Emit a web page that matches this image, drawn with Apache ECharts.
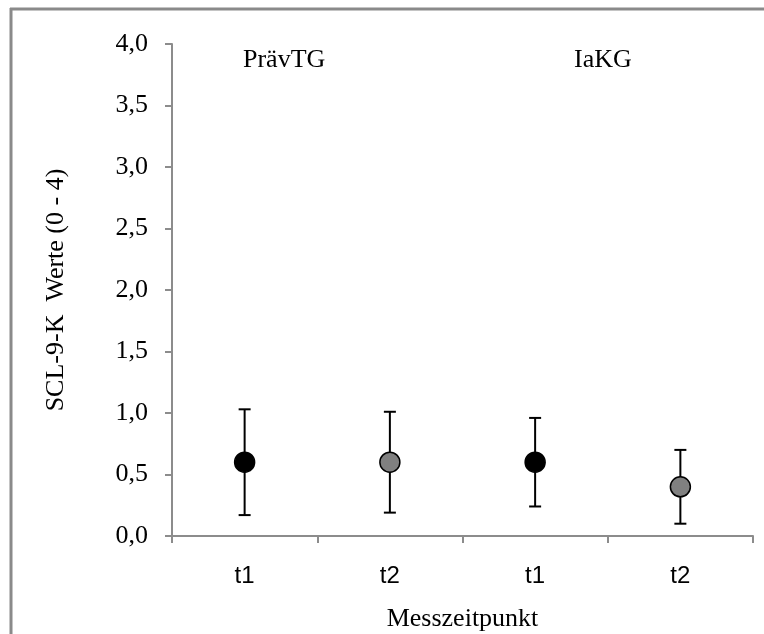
<!DOCTYPE html>
<html>
<head>
<meta charset="utf-8">
<script src="https://cdn.jsdelivr.net/npm/echarts@6/dist/echarts.min.js"></script>
<style>
    html, body { margin: 0; padding: 0; background: #fff; }
    #main { width: 764px; height: 634px; }
</style>
</head>
<body>
<div id="main"></div>
<script>
// Messzeitpunkte
var categories = ['t1', 't2', 't1', 't2'];
// Mittelwerte und Fehlerbalken (oben/unten)
var means = [0.6, 0.6, 0.6, 0.4];
var upper = [1.03, 1.01, 0.96, 0.70];
var lower = [0.17, 0.19, 0.24, 0.10];
var pointColors = ['#000000', '#808080', '#000000', '#808080'];
var groups = ['PrävTG', 'IaKG'];

var serif = '"Liberation Serif", "Times New Roman", serif';
var sans = '"Liberation Sans", Arial, sans-serif';

var myChart = echarts.init(document.getElementById('main'));

var errData = [];
var pointData = [];
for (var i = 0; i < categories.length; i++) {
    errData.push([i, lower[i], upper[i]]);
    pointData.push({
        value: [i, means[i]],
        itemStyle: { color: pointColors[i] }
    });
}

var option = {
    backgroundColor: '#fff',
    animation: false,
    grid: {
        left: 172,
        right: 11,
        top: 44,
        bottom: 98,
        containLabel: false,
        outerBoundsMode: 'none'
    },
    graphic: [
        { type: 'line', shape: { x1: 10, y1: 9, x2: 764, y2: 9 }, style: { stroke: '#8a8a8a', lineWidth: 3 } },
        { type: 'line', shape: { x1: 11, y1: 8, x2: 11, y2: 634 }, style: { stroke: '#8a8a8a', lineWidth: 3 } },
        { type: 'text', left: 243, top: 47, style: { text: groups[0], fontFamily: serif, fontSize: 26, fill: '#000' } },
        { type: 'text', left: 574, top: 47, style: { text: groups[1], fontFamily: serif, fontSize: 26, fill: '#000' } }
    ],
    xAxis: {
        type: 'category',
        data: categories,
        boundaryGap: true,
        name: 'Messzeitpunkt',
        nameLocation: 'middle',
        nameGap: 70,
        nameTextStyle: { fontFamily: serif, fontSize: 26, color: '#000' },
        axisLine: { lineStyle: { color: '#8c8c8c', width: 2 } },
        axisTick: { show: true, length: 7, lineStyle: { color: '#8c8c8c', width: 2 } },
        axisLabel: { margin: 28, fontFamily: sans, fontSize: 24, color: '#000' },
        splitLine: { show: false }
    },
    yAxis: {
        type: 'value',
        min: 0,
        max: 4,
        interval: 0.5,
        name: 'SCL-9-K  Werte (0 - 4)',
        nameLocation: 'middle',
        nameGap: 103,
        nameTextStyle: { fontFamily: serif, fontSize: 26, color: '#000' },
        axisLine: { show: true, lineStyle: { color: '#8c8c8c', width: 2 } },
        axisTick: { show: true, length: 7, lineStyle: { color: '#8c8c8c', width: 2 } },
        axisLabel: {
            margin: 24,
            fontFamily: serif,
            fontSize: 26,
            color: '#000',
            formatter: function (v) { return v.toFixed(1).replace('.', ','); }
        },
        splitLine: { show: false }
    },
    series: [
        {
            name: 'Fehler',
            type: 'custom',
            z: 2,
            renderItem: function (params, api) {
                var x = api.value(0);
                var lo = api.coord([x, api.value(1)]);
                var hi = api.coord([x, api.value(2)]);
                var cap = 6;
                var st = { stroke: '#000', lineWidth: 2 };
                return {
                    type: 'group',
                    children: [
                        { type: 'line', shape: { x1: lo[0], y1: lo[1], x2: hi[0], y2: hi[1] }, style: st },
                        { type: 'line', shape: { x1: hi[0] - cap, y1: hi[1], x2: hi[0] + cap, y2: hi[1] }, style: st },
                        { type: 'line', shape: { x1: lo[0] - cap, y1: lo[1], x2: lo[0] + cap, y2: lo[1] }, style: st }
                    ]
                };
            },
            encode: { x: 0, y: [1, 2] },
            data: errData
        },
        {
            name: 'Mittelwert',
            type: 'scatter',
            z: 3,
            symbol: 'circle',
            symbolSize: 20,
            itemStyle: { borderColor: '#000', borderWidth: 1.5, opacity: 1 },
            data: pointData
        }
    ]
};
myChart.setOption(option);
</script>
</body>
</html>
